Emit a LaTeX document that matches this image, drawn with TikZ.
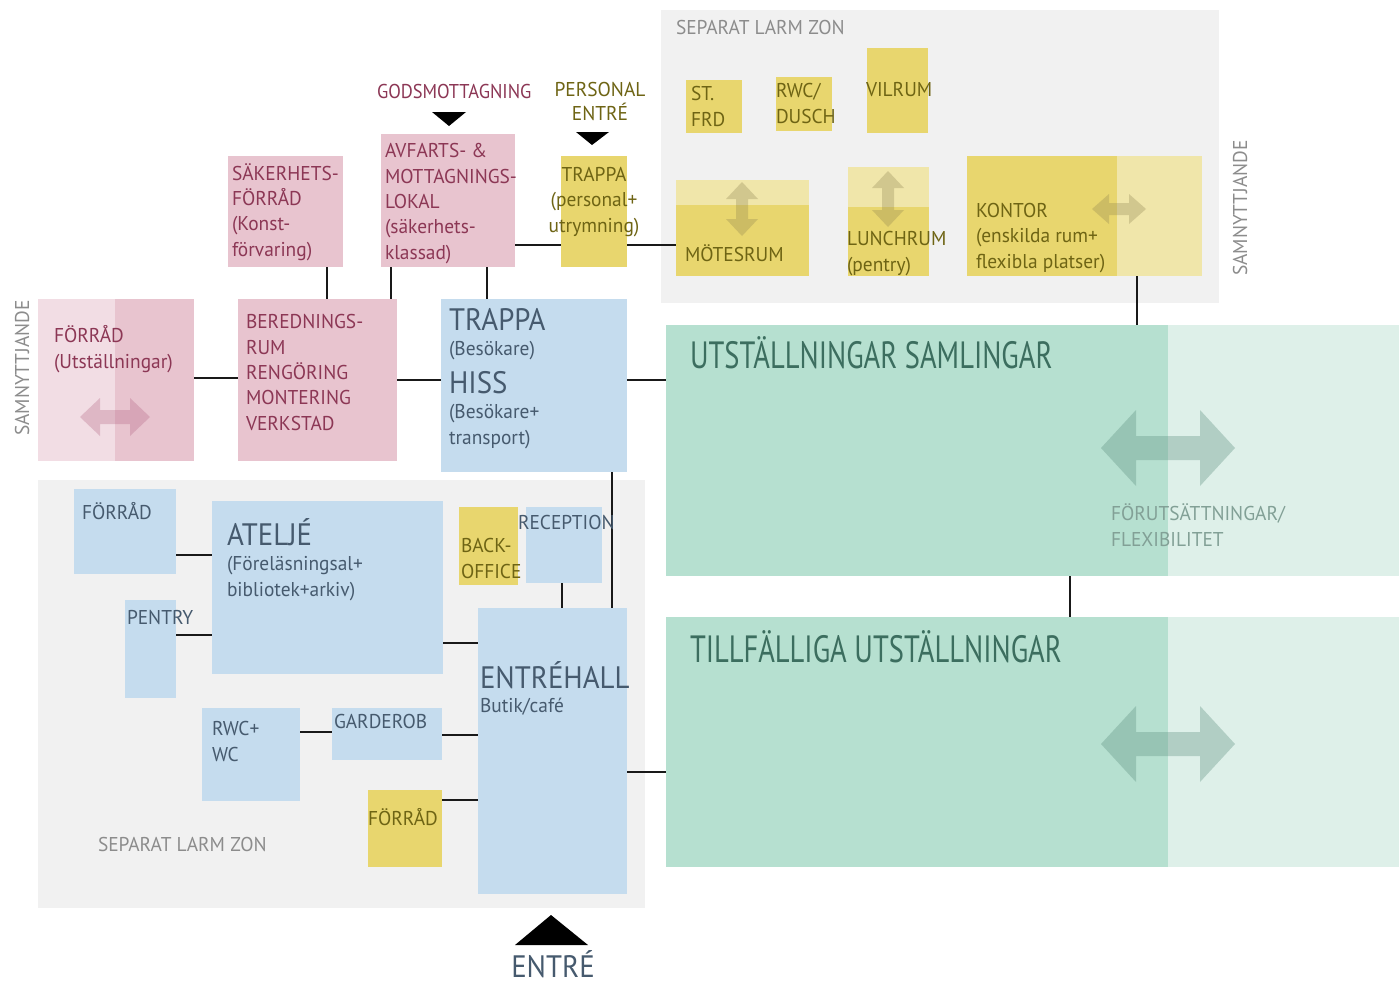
\documentclass[tikz,border=0pt]{standalone}
\usepackage{fontspec}
\setmainfont[FakeStretch=0.97]{PT Sans}
\newfontfamily\fbig[FakeStretch=0.93]{PT Sans}
\newfontfamily\fcond[FakeStretch=0.75]{PT Sans}
\newfontfamily\fgods[FakeStretch=0.92]{PT Sans}
\definecolor{pinkbox}{HTML}{E8C4CF}
\definecolor{pinklight}{HTML}{F2DDE4}
\definecolor{pinktext}{HTML}{8C3755}
\definecolor{yelbox}{HTML}{E8D66E}
\definecolor{yellight}{HTML}{F0E6AA}
\definecolor{yeltext}{HTML}{6E6414}
\definecolor{bluebox}{HTML}{C5DCEE}
\definecolor{bluetext}{HTML}{465A6E}
\definecolor{greenbox}{HTML}{B6E0D0}
\definecolor{greenlight}{HTML}{DEF0E9}
\definecolor{greentext}{HTML}{3C6E5F}
\definecolor{zone}{HTML}{F1F1F1}
\definecolor{graytext}{HTML}{8C8C8C}
\definecolor{flextext}{HTML}{82A096}
\definecolor{garrowc}{HTML}{5F9080}
\definecolor{yarrowc}{HTML}{8C8050}
\definecolor{parrowc}{HTML}{B06080}
\newcommand\rbox[6]{\node[room,#6,minimum width={(#4-#2)*1pt},minimum height={(#5-#3)*1pt}] (#1) at (#2,#3) {};}
\newcommand\harrow[7]{\fill[#7] (#1-#3,#2) -- (#1-#3+#4,#2-#5) -- (#1-#3+#4,#2-#6) -- (#1+#3-#4,#2-#6) -- (#1+#3-#4,#2-#5) -- (#1+#3,#2) -- (#1+#3-#4,#2+#5) -- (#1+#3-#4,#2+#6) -- (#1-#3+#4,#2+#6) -- (#1-#3+#4,#2+#5) -- cycle;}
\newcommand\varrow[7]{\fill[#7] (#1,#2-#3) -- (#1+#5,#2-#3+#4) -- (#1+#6,#2-#3+#4) -- (#1+#6,#2+#3-#4) -- (#1+#5,#2+#3-#4) -- (#1,#2+#3) -- (#1-#5,#2+#3-#4) -- (#1-#6,#2+#3-#4) -- (#1-#6,#2-#3+#4) -- (#1-#5,#2-#3+#4) -- cycle;}
\tikzset{
  room/.style={inner sep=0pt,outer sep=0pt,anchor=north west,draw=none},
  pinkb/.style={fill=pinkbox}, yelb/.style={fill=yelbox}, blueb/.style={fill=bluebox},
  greenb/.style={fill=greenbox}, zoneb/.style={fill=zone},
  conn/.style={line width=2.8pt,draw=black!90},
  lbl/.style={inner sep=0pt,outer sep=0pt,anchor=base west,align=left,font=\fontsize{20}{25.3}\selectfont},
  big/.style={font=\fbig\fontsize{31}{38}\selectfont},
  ptxt/.style={lbl,text=pinktext}, ytxt/.style={lbl,text=yeltext},
  btxt/.style={lbl,text=bluetext}, gtxt/.style={lbl,text=greentext,font=\fcond\fontsize{38}{44}\selectfont},
  zt/.style={lbl,text=graytext},
  garrow/.style={fill=garrowc,opacity=0.35},
  yarrow/.style={fill=yarrowc,opacity=0.3},
  parrow/.style={fill=parrowc,opacity=0.3},
  tri/.style={fill=black}
}
\begin{document}
\begin{tikzpicture}[x=1pt,y=-1pt]
\fill[white] (0,0) rectangle (1399,983);
\useasboundingbox (0,0) rectangle (1399,983);
% zones
\rbox{zoneT}{661}{10}{1219}{303}{zoneb}
\rbox{zoneB}{38}{480}{645}{908}{zoneb}
% pink
\rbox{forradU}{38}{299}{194}{461}{fill=pinklight}
\fill[pinkbox] (115,299) rectangle (194,461);
\rbox{bered}{238}{299}{397}{461}{pinkb}
\rbox{saker}{228}{156}{343}{267}{pinkb}
\rbox{avfarts}{381}{134}{515}{267}{pinkb}
% yellow
\rbox{trappaP}{561}{156}{627}{267}{yelb}
\rbox{stfrd}{686}{80}{742}{133}{yelb}
\rbox{rwcd}{776}{77}{832}{131}{yelb}
\rbox{vilrum}{867}{48}{928}{133}{yelb}
\rbox{motes}{676}{180}{809}{276}{yelb}
\fill[yellight] (676,180) rectangle (809,205);
\rbox{lunch}{848}{167}{929}{276}{yelb}
\fill[yellight] (848,167) rectangle (929,207);
\rbox{kontor}{967}{156}{1202}{276}{yelb}
\fill[yellight] (1117,156) rectangle (1202,276);
\rbox{backoff}{459}{507}{518}{585}{yelb}
\rbox{forradY}{368}{790}{442}{867}{yelb}
% blue
\rbox{hiss}{441}{299}{627}{472}{blueb}
\rbox{forradB}{74}{489}{176}{574}{blueb}
\rbox{atelje}{212}{501}{443}{674}{blueb}
\rbox{pentry}{125}{600}{176}{698}{blueb}
\rbox{recep}{526}{507}{602}{583}{blueb}
\rbox{entre}{478}{608}{627}{894}{blueb}
\rbox{rwc}{202}{708}{300}{801}{blueb}
\rbox{garderob}{332}{708}{442}{760}{blueb}
% green
\rbox{utst}{666}{325}{1399}{576}{fill=greenlight}
\fill[greenbox] (666,325) rectangle (1168,576);
\rbox{tillf}{666}{617}{1399}{867}{fill=greenlight}
\fill[greenbox] (666,617) rectangle (1168,867);
% faded arrows
\harrow{1168}{448}{67}{35}{38}{12}{garrow}
\harrow{1168}{744}{67}{35}{38}{12}{garrow}
\harrow{115}{417}{35}{20}{19}{7}{parrow}
\varrow{742}{209}{27}{17}{16}{6}{yarrow}
\varrow{888}{199}{28}{17}{16}{6}{yarrow}
\harrow{1119}{209}{27}{17}{15}{6}{yarrow}
% connectors
\draw[conn] (forradU.east |- 0,378) -- (bered.west |- 0,378);
\draw[conn] (bered.east |- 0,380) -- (hiss.west |- 0,380);
\draw[conn] (saker.south -| 327,0) -- (bered.north -| 327,0);
\draw[conn] (avfarts.south -| 391,0) -- (bered.north -| 391,0);
\draw[conn] (avfarts.south -| 487,0) -- (hiss.north -| 487,0);
\draw[conn] (avfarts.east |- 0,245) -- (trappaP.west |- 0,245);
\draw[conn] (trappaP.east |- 0,245) -- (motes.west |- 0,245);
\draw[conn] (hiss.east |- 0,380) -- (utst.west |- 0,380);
\draw[conn] (kontor.south -| 1137,0) -- (utst.north -| 1137,0);
\draw[conn] (utst.south -| 1070,0) -- (tillf.north -| 1070,0);
\draw[conn] (entre.east |- 0,772) -- (tillf.west |- 0,772);
\draw[conn] (hiss.south -| 612,0) -- (entre.north -| 612,0);
\draw[conn] (recep.south -| 562,0) -- (entre.north -| 562,0);
\draw[conn] (forradB.east |- 0,555) -- (atelje.west |- 0,555);
\draw[conn] (pentry.east |- 0,635) -- (atelje.west |- 0,635);
\draw[conn] (atelje.east |- 0,643) -- (entre.west |- 0,643);
\draw[conn] (rwc.east |- 0,732) -- (garderob.west |- 0,732);
\draw[conn] (garderob.east |- 0,735) -- (entre.west |- 0,735);
\draw[conn] (forradY.east |- 0,800) -- (entre.west |- 0,800);
% entry triangles
\fill[tri] (432,112) -- (466,112) -- (449,126) -- cycle;
\fill[tri] (576,132) -- (609,132) -- (592,145) -- cycle;
\fill[tri] (515,945) -- (588,945) -- (551,915) -- cycle;
% texts (multi-line nodes: base anchor is on the last line)
\node[zt] (tZoneT) at (676,34) {SEPARAT LARM ZON};
\node[zt] (tZoneB) at (98,851) {SEPARAT LARM ZON};
\node[zt,anchor=center,rotate=90] (tSamL) at (22,368) {SAMNYTTJANDE};
\node[zt,anchor=center,rotate=90] (tSamR) at (1240,208) {SAMNYTTJANDE};
\node[ptxt,font=\fgods\fontsize{20}{25.3}\selectfont] (tGods) at (377,98) {GODSMOTTAGNING};
\node[ytxt,align=center,anchor=base] (tPers) at (600,120) {PERSONAL\\[-1.5pt]ENTRÉ};
\node[ptxt] (tSaker) at (232,256) {SÄKERHETS-\\FÖRRÅD\\(Konst-\\förvaring)};
\node[ptxt] (tAvf) at (385,259) {AVFARTS- \&\\MOTTAGNINGS-\\LOKAL\\(säkerhets-\\klassad)};
\node[ptxt] (tForU) at (54,368) {FÖRRÅD\\(Utställningar)};
\node[ptxt] (tBered) at (246,430) {BEREDNINGS-\\RUM\\RENGÖRING\\MONTERING\\VERKSTAD};
\node[ytxt,align=center,anchor=base] (tTrP) at (594,232) {TRAPPA\\(personal+\\utrymning)};
\node[ytxt] (tSt) at (691,126) {ST.\\FRD};
\node[ytxt] (tRwcd) at (776,123) {RWC/\\DUSCH};
\node[ytxt] (tVil) at (866,96) {VILRUM};
\node[ytxt] (tMot) at (685,261) {MÖTESRUM};
\node[ytxt] (tLun) at (847,271) {LUNCHRUM\\(pentry)};
\node[ytxt] (tKon) at (976,268) {KONTOR\\(enskilda rum+\\flexibla platser)};
\node[btxt,big] (tTrH) at (449,330) {TRAPPA};
\node[btxt] (tBes) at (449,355) {(Besökare)};
\node[btxt,big] (tHiss) at (449,393) {HISS};
\node[btxt] (tBes2) at (449,444) {(Besökare+\\transport)};
\node[btxt] (tForB) at (82,519) {FÖRRÅD};
\node[btxt,big] (tAte) at (227,545) {ATELJÉ};
\node[btxt] (tAte2) at (227,596) {(Föreläsningsal+\\bibliotek+arkiv)};
\node[btxt] (tPen) at (127,624) {PENTRY};
\node[ytxt] (tBack) at (461,578) {BACK-\\OFFICE};
\node[btxt] (tRec) at (518,529) {RECEPTION};
\node[btxt,big] (tEnt) at (480,688) {ENTRÉHALL};
\node[btxt] (tEnt2) at (480,712) {Butik/café};
\node[btxt] (tRwc) at (212,761) {RWC+\\WC};
\node[btxt] (tGar) at (334,728) {GARDEROB};
\node[ytxt] (tForY) at (368,825) {FÖRRÅD};
\node[gtxt] (tUtst) at (690,368) {UTSTÄLLNINGAR SAMLINGAR};
\node[lbl,text=flextext] (tFlex) at (1111,546) {FÖRUTSÄTTNINGAR/\\FLEXIBILITET};
\node[gtxt] (tTill) at (690,662) {TILLFÄLLIGA UTSTÄLLNINGAR};
\node[btxt,big,anchor=base,text depth=0pt] (tEntre) at (553,977) {ENTRÉ};
\end{tikzpicture}
\end{document}
